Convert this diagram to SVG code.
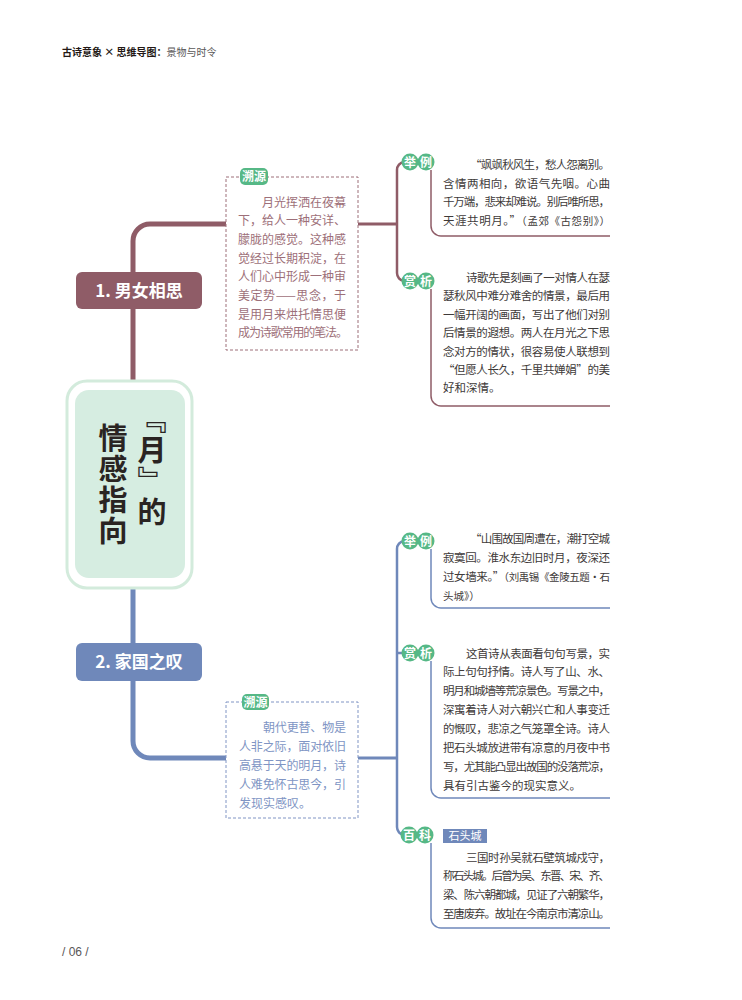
<svg xmlns="http://www.w3.org/2000/svg" width="742" height="1000" viewBox="0 0 742 1000">
<style>
text{font-family:"Noto Sans CJK SC","Noto Sans",sans-serif}
.m{stroke:#8f5c67;fill:none}
.b{stroke:#6f88ba;fill:none}
.trunk{stroke-width:5}
.br{stroke-width:2.5}
.sub{stroke-width:1.5}
.badge{fill:#56b886}
.bt{fill:#fff;font-size:12px;font-weight:bold;text-anchor:middle}
.lbl{fill:#fff;font-size:11px;text-anchor:middle}
.body{fill:#3e3a39;font-size:11.5px}
.mt{fill:#9d6f79;font-size:12px}
.btx{fill:#8095c4;font-size:12px}
.cite{font-size:10.5px;fill:#3e3a39}
.ct{fill:#2a2422;font-size:29px;font-weight:bold;writing-mode:vertical-rl;letter-spacing:2px}
.nt{fill:#fff;font-size:17px;font-weight:bold;text-anchor:middle}
</style>
<rect width="742" height="1000" fill="#fff"/>
<g id="header">
<text x="62" y="56" font-size="10" fill="#231815" font-weight="bold">古诗意象 × 思维导图：<tspan font-weight="normal" fill="#595757">景物与时令</tspan></text>
</g>
<g id="connectors">
<path class="m trunk" d="M226,224 H150 A17,17 0 0 0 133,241 V381"/>
<path class="b trunk" d="M133,588 V741 A17,17 0 0 0 150,758 H226"/>
<path class="m" stroke-width="3" d="M358,224 H397"/>
<path class="m br" d="M404,162 A8,8 0 0 0 397,170 V273 A8,8 0 0 0 404,281"/>
<path class="m sub" d="M431,170 V226 A10,10 0 0 0 441,236 H610"/>
<path class="m sub" d="M431,289 V396 A10,10 0 0 0 441,406 H610"/>
<path class="b" stroke-width="3" d="M358,758 H397"/>
<path class="b br" d="M404,541 A8,8 0 0 0 397,549 V827 A8,8 0 0 0 404,835 M397,653 H403"/>
<path class="b sub" d="M431,549 V598 A10,10 0 0 0 441,608 H610"/>
<path class="b sub" d="M431,661 V788 A10,10 0 0 0 441,798 H610"/>
<path class="b sub" d="M431,843 V918 A10,10 0 0 0 441,928 H610"/>
</g>
<g id="center">
<rect x="67" y="381" width="125" height="207" rx="20" fill="#fff" stroke="#d3ebdc" stroke-width="3"/>
<rect x="75" y="390" width="110" height="188" rx="14" fill="#d6ede1"/>
<text class="ct" x="152" y="404">『月』的</text>
<text class="ct" x="113" y="423">情感指向</text>
</g>
<g id="node1">
<rect x="76" y="272" width="126" height="37" rx="6" fill="#8f5c67"/>
<text class="nt" x="139" y="297">1. 男女相思</text>
</g>
<g id="node2">
<rect x="76" y="643" width="126" height="38" rx="6" fill="#6f88ba"/>
<text class="nt" x="139" y="668">2. 家国之叹</text>
</g>
<g id="source1">
<rect x="226" y="177" width="132" height="173" fill="#fff" stroke="#9d6f79" stroke-width="1" stroke-dasharray="3 2"/>
<rect class="badge" x="240" y="168" width="28" height="17" rx="5"/>
<text class="bt" x="254" y="180.5">溯源</text>
<text class="mt" x="262" y="206.5" textLength="84" lengthAdjust="spacing">月光挥洒在夜幕</text>
<text class="mt" x="238" y="225.2" textLength="108" lengthAdjust="spacing">下，给人一种安详、</text>
<text class="mt" x="238" y="243.9" textLength="108" lengthAdjust="spacing">朦胧的感觉。这种感</text>
<text class="mt" x="238" y="262.6" textLength="108" lengthAdjust="spacing">觉经过长期积淀，在</text>
<text class="mt" x="238" y="281.3" textLength="108" lengthAdjust="spacing">人们心中形成一种审</text>
<text class="mt" x="238" y="300" textLength="108" lengthAdjust="spacing">美定势——思念，于</text>
<text class="mt" x="238" y="318.7" textLength="108" lengthAdjust="spacing">是用月来烘托情思便</text>
<text class="mt" x="238" y="337.4" textLength="110" lengthAdjust="spacing">成为诗歌常用的笔法。</text>
</g>
<g id="example1">
<circle class="badge" cx="410" cy="162" r="8.5"/>
<circle class="badge" cx="426" cy="162" r="8.5"/>
<text class="bt" x="410" y="166.5">举</text>
<text class="bt" x="426" y="166.5">例</text>
<text class="body" x="470" y="169" textLength="140" lengthAdjust="spacing">“飒飒秋风生，愁人怨离别。</text>
<text class="body" x="443" y="187.5" textLength="167" lengthAdjust="spacing">含情两相向，欲语气先咽。心曲</text>
<text class="body" x="443" y="206" textLength="167" lengthAdjust="spacing">千万端，悲来却难说。别后唯所思，</text>
<text class="body" x="443" y="224.5" textLength="167" lengthAdjust="spacing">天涯共明月。”<tspan class="cite">（孟郊《古怨别》）</tspan></text>
</g>
<g id="analysis1">
<circle class="badge" cx="410" cy="281" r="8.5"/>
<circle class="badge" cx="426" cy="281" r="8.5"/>
<text class="bt" x="410" y="285.5">赏</text>
<text class="bt" x="426" y="285.5">析</text>
<text class="body" x="466" y="282" textLength="144" lengthAdjust="spacing">诗歌先是刻画了一对情人在瑟</text>
<text class="body" x="443" y="300.4" textLength="167" lengthAdjust="spacing">瑟秋风中难分难舍的情景，最后用</text>
<text class="body" x="443" y="318.8" textLength="167" lengthAdjust="spacing">一幅开阔的画面，写出了他们对别</text>
<text class="body" x="443" y="337.2" textLength="167" lengthAdjust="spacing">后情景的遐想。两人在月光之下思</text>
<text class="body" x="443" y="355.6" textLength="167" lengthAdjust="spacing">念对方的情状，很容易使人联想到</text>
<text class="body" x="443" y="374" textLength="167" lengthAdjust="spacing">“但愿人长久，千里共婵娟”的美</text>
<text class="body" x="443" y="392.4">好和深情。</text>
</g>
<g id="source2">
<rect x="226" y="702" width="132" height="116" fill="#fff" stroke="#8095c4" stroke-width="1" stroke-dasharray="3 2"/>
<rect class="badge" x="242" y="694" width="27" height="16" rx="5"/>
<text class="bt" x="255.5" y="706.5">溯源</text>
<text class="btx" x="263" y="731.5" textLength="83" lengthAdjust="spacing">朝代更替、物是</text>
<text class="btx" x="239" y="750.5" textLength="107" lengthAdjust="spacing">人非之际，面对依旧</text>
<text class="btx" x="239" y="769.5" textLength="107" lengthAdjust="spacing">高悬于天的明月，诗</text>
<text class="btx" x="239" y="788.5" textLength="107" lengthAdjust="spacing">人难免怀古思今，引</text>
<text class="btx" x="239" y="807.5">发现实感叹。</text>
</g>
<g id="example2">
<circle class="badge" cx="410" cy="541" r="8.5"/>
<circle class="badge" cx="426" cy="541" r="8.5"/>
<text class="bt" x="410" y="545.5">举</text>
<text class="bt" x="426" y="545.5">例</text>
<text class="body" x="470" y="542.5" textLength="140" lengthAdjust="spacing">“山围故国周遭在，潮打空城</text>
<text class="body" x="443" y="561.5" textLength="167" lengthAdjust="spacing">寂寞回。淮水东边旧时月，夜深还</text>
<text class="body" x="443" y="580.5" textLength="167" lengthAdjust="spacing">过女墙来。”<tspan class="cite">（刘禹锡《金陵五题·石</tspan></text>
<text class="body" x="443" y="599.5"><tspan class="cite">头城》）</tspan></text>
</g>
<g id="analysis2">
<circle class="badge" cx="410" cy="653" r="8.5"/>
<circle class="badge" cx="426" cy="653" r="8.5"/>
<text class="bt" x="410" y="657.5">赏</text>
<text class="bt" x="426" y="657.5">析</text>
<text class="body" x="466" y="657.5" textLength="144" lengthAdjust="spacing">这首诗从表面看句句写景，实</text>
<text class="body" x="443" y="676.4" textLength="167" lengthAdjust="spacing">际上句句抒情。诗人写了山、水、</text>
<text class="body" x="443" y="695.3" textLength="167" lengthAdjust="spacing">明月和城墙等荒凉景色。写景之中，</text>
<text class="body" x="443" y="714.2" textLength="167" lengthAdjust="spacing">深寓着诗人对六朝兴亡和人事变迁</text>
<text class="body" x="443" y="733.1" textLength="167" lengthAdjust="spacing">的慨叹，悲凉之气笼罩全诗。诗人</text>
<text class="body" x="443" y="752" textLength="167" lengthAdjust="spacing">把石头城放进带有凉意的月夜中书</text>
<text class="body" x="443" y="770.9" textLength="167" lengthAdjust="spacing">写，尤其能凸显出故国的没落荒凉，</text>
<text class="body" x="443" y="789.8">具有引古鉴今的现实意义。</text>
</g>
<g id="encyclopedia">
<circle class="badge" cx="409" cy="835" r="8.5"/>
<circle class="badge" cx="425" cy="835" r="8.5"/>
<text class="bt" x="409" y="839.5">百</text>
<text class="bt" x="425" y="839.5">科</text>
<rect x="443" y="829" width="44" height="14" fill="#6f88ba"/>
<text class="lbl" x="465" y="840">石头城</text>
<text class="body" x="466" y="861.5" textLength="144" lengthAdjust="spacing">三国时孙吴就石壁筑城戍守，</text>
<text class="body" x="443" y="880.2" textLength="167" lengthAdjust="spacing">称石头城。后曾为吴、东晋、宋、齐、</text>
<text class="body" x="443" y="898.9" textLength="167" lengthAdjust="spacing">梁、陈六朝都城，见证了六朝繁华，</text>
<text class="body" x="443" y="917.6" textLength="167" lengthAdjust="spacing">至唐废弃。故址在今南京市清凉山。</text>
</g>
<g id="footer">
<text x="62" y="956" font-size="12" fill="#595757" style="font-family:'Liberation Sans',sans-serif">/ 06 /</text>
</g>
</svg>
